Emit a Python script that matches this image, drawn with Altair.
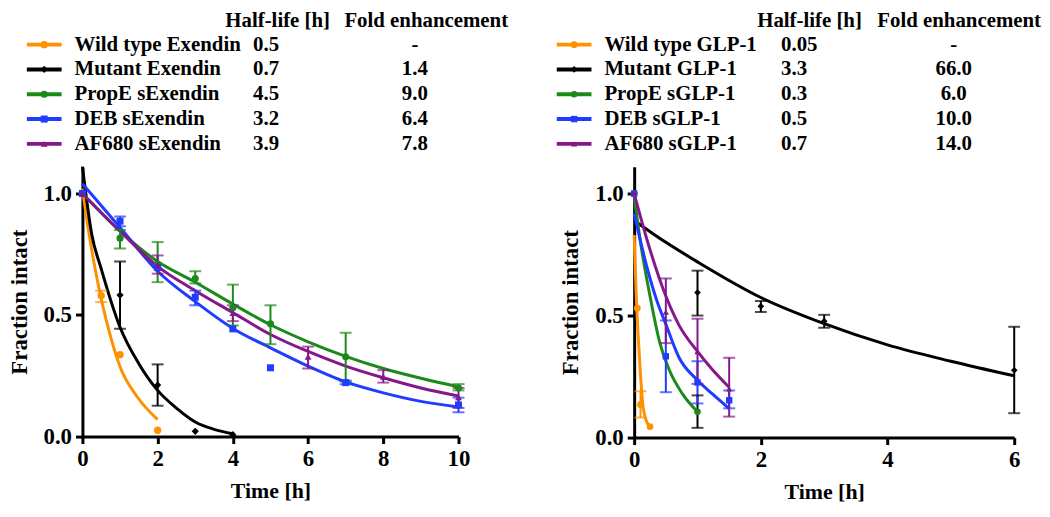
import altair as alt
import pandas as pd

# ---------------- legend tables ----------------
L_SERIES = ["Wild type Exendin", "Mutant Exendin", "PropE sExendin", "DEB sExendin", "AF680 sExendin"]
L_HALF = ["0.5", "0.7", "4.5", "3.2", "3.9"]
L_FOLD = ["-", "1.4", "9.0", "6.4", "7.8"]

R_SERIES = ["Wild type GLP-1", "Mutant GLP-1", "PropE sGLP-1", "DEB sGLP-1", "AF680 sGLP-1"]
R_HALF = ["0.05", "3.3", "0.3", "0.5", "0.7"]
R_FOLD = ["-", "66.0", "6.0", "10.0", "14.0"]

# ---------------- left panel (Exendin) ----------------
L_WT_T = [0, 0.5, 1, 2]
L_WT_V = [1.0, 0.58, 0.337, 0.026]
L_MU_T = [0, 1, 2, 3, 4]
L_MU_V = [1.0, 0.582, 0.212, 0.022, 0.008]
L_PR_T = [0, 1, 2, 3, 4, 5, 7, 10]
L_PR_V = [1.0, 0.816, 0.71, 0.65, 0.53, 0.464, 0.328, 0.20]
L_DE_T = [0, 1, 2, 3, 4, 5, 7, 10]
L_DE_V = [1.0, 0.886, 0.695, 0.573, 0.443, 0.283, 0.222, 0.13]
L_AF_T = [0, 2, 4, 6, 8, 10]
L_AF_V = [1.0, 0.706, 0.508, 0.328, 0.246, 0.162]
# error bars (time, low, high)
L_WT_ERR = [(0.5, 0.553, 0.60)]
L_MU_ERR = [(1, 0.444, 0.72), (2, 0.127, 0.297)]
L_PR_ERR = [(1, 0.774, 0.85), (2, 0.635, 0.80), (3, 0.63, 0.68), (4, 0.457, 0.625),
            (5, 0.38, 0.54), (7, 0.226, 0.427), (10, 0.19, 0.216)]
L_DE_ERR = [(1, 0.865, 0.905), (3, 0.54, 0.60), (7, 0.215, 0.23), (10, 0.10, 0.16)]
L_AF_ERR = [(2, 0.67, 0.745), (4, 0.475, 0.54), (6, 0.28, 0.37), (8, 0.222, 0.273), (10, 0.118, 0.20)]
# fitted curves
L_WT_CT = [0, 0.15, 0.35, 0.53, 0.75, 1.0, 1.45, 2.0]
L_WT_CV = [1.02, 0.86, 0.68, 0.546, 0.41, 0.287, 0.165, 0.07]
L_MU_CT = [0, 0.25, 0.5, 1.0, 1.5, 2.0, 2.5, 3.0, 3.5, 4.0]
L_MU_CV = [1.11, 0.83, 0.69, 0.45, 0.30, 0.19, 0.117, 0.06, 0.03, 0.012]
L_PR_CT = [0, 1, 2, 3, 4, 5, 6, 7, 8, 9, 10]
L_PR_CV = [1.0, 0.845, 0.72, 0.635, 0.545, 0.46, 0.39, 0.33, 0.28, 0.24, 0.205]
L_DE_CT = [0, 1, 2, 3, 4, 5, 6, 7, 8, 9, 10]
L_DE_CV = [1.04, 0.86, 0.68, 0.555, 0.445, 0.365, 0.29, 0.225, 0.18, 0.145, 0.122]
L_AF_CT = [0, 1, 2, 3, 4, 5, 6, 7, 8, 9, 10]
L_AF_CV = [1.0, 0.845, 0.70, 0.60, 0.51, 0.42, 0.35, 0.29, 0.242, 0.20, 0.167]

# ---------------- right panel (GLP-1) ----------------
R_WT_T = [0, 0.05, 0.1, 0.25]
R_WT_V = [1.0, 0.53, 0.135, 0.045]
R_MU_T = [0, 1, 2, 3, 6]
R_MU_V = [1.0, 0.594, 0.538, 0.477, 0.276]
R_PR_T = [0, 1]
R_PR_V = [1.0, 0.106]
R_DE_T = [0, 0.5, 1, 1.5]
R_DE_V = [1.0, 0.333, 0.226, 0.153]
R_AF_T = [0, 0.5, 1, 1.5]
R_AF_V = [1.0, 0.514, 0.353, 0.20]
R_WT_ERR = [(0.1, 0.082, 0.19)]
R_MU_ERR = [(1, 0.50, 0.684), (1, 0.04, 0.173), (2, 0.515, 0.56), (3, 0.45, 0.503), (6, 0.10, 0.454)]
R_PR_ERR = []
R_DE_ERR = [(0.5, 0.186, 0.48), (1, 0.14, 0.313), (1.5, 0.12, 0.193)]
R_AF_ERR = [(0.5, 0.387, 0.652), (1, 0.22, 0.487), (1.5, 0.086, 0.327)]
R_WT_CT = [0, 0.03, 0.083, 0.135, 0.19, 0.25]
R_WT_CV = [0.83, 0.60, 0.33, 0.14, 0.07, 0.045]
R_MU_CT = [0, 0.5, 1, 2, 3, 4, 5, 6]
R_MU_CV = [0.89, 0.80, 0.72, 0.574, 0.467, 0.38, 0.313, 0.253]
R_PR_CT = [0, 0.1, 0.24, 0.4, 0.55, 0.76, 1.0]
R_PR_CV = [0.99, 0.80, 0.594, 0.394, 0.28, 0.18, 0.106]
R_DE_CT = [0, 0.2, 0.36, 0.5, 0.71, 1.0, 1.23, 1.5]
R_DE_CV = [0.918, 0.70, 0.56, 0.465, 0.327, 0.235, 0.18, 0.119]
R_AF_CT = [0, 0.25, 0.5, 0.71, 1.0, 1.23, 1.5]
R_AF_CV = [1.0, 0.77, 0.58, 0.46, 0.353, 0.28, 0.206]

COLORS = ["#FF9000", "#000000", "#1B8A1B", "#1F3CFF", "#85168B"]
SHAPES = ["circle", "diamond", "circle", "square", "triangle-up"]
SIZES = [55, 40, 75, 75, 75]

FONT = "Liberation Serif"
ALL_SERIES = L_SERIES + R_SERIES
COLOR_SCALE = alt.Scale(domain=ALL_SERIES, range=COLORS + COLORS)
SHAPE_SCALE = alt.Scale(domain=ALL_SERIES, range=SHAPES + SHAPES)
SIZE_SCALE = alt.Scale(domain=ALL_SERIES, range=SIZES + SIZES)


def build_frames(series, pts, errs, curves):
    p, e, c = [], [], []
    for name, (ts, vs) in zip(series, pts):
        for t, v in zip(ts, vs):
            p.append({"series": name, "t": t, "v": v})
    for name, rows in zip(series, errs):
        for t, lo, hi in rows:
            e.append({"series": name, "t": t, "lo": lo, "hi": hi})
    for name, (ts, vs) in zip(series, curves):
        for t, v in zip(ts, vs):
            c.append({"series": name, "t": t, "v": v})
    return pd.DataFrame(p), pd.DataFrame(e), pd.DataFrame(c)


def plot_layers(series, pts, errs, curves, xmax, xvals):
    dp, de, dc = build_frames(series, pts, errs, curves)
    xs = alt.Scale(domain=[0, xmax], nice=False)
    ys = alt.Scale(domain=[0, 1.11], nice=False)
    xa = alt.Axis(values=xvals, format="d", title="Time [h]")
    ya = alt.Axis(values=[0, 0.5, 1.0], format=".1f", title="Fraction intact",
                  titlePadding=12, titleFontSize=23)
    color = alt.Color("series:N", scale=COLOR_SCALE, legend=None)

    def X():
        return alt.X("t:Q", scale=xs, axis=xa)

    def Y(f):
        return alt.Y(f, scale=ys, axis=ya)

    lines = alt.Chart(dc).mark_line(strokeWidth=3, interpolate="monotone").encode(
        x=X(), y=Y("v:Q"), color=color)
    bars = alt.Chart(de).mark_rule(strokeWidth=2).encode(
        x=X(), y=Y("lo:Q"), y2="hi:Q", color=color)
    cap_lo = alt.Chart(de).mark_tick(thickness=2, size=12, orient="horizontal").encode(
        x=X(), y=Y("lo:Q"), color=color)
    cap_hi = alt.Chart(de).mark_tick(thickness=2, size=12, orient="horizontal").encode(
        x=X(), y=Y("hi:Q"), color=color)
    points = alt.Chart(dp).mark_point(filled=True, opacity=1).encode(
        x=X(), y=Y("v:Q"), color=color,
        shape=alt.Shape("series:N", scale=SHAPE_SCALE, legend=None),
        size=alt.Size("series:N", scale=SIZE_SCALE, legend=None))
    return alt.layer(lines, bars, cap_lo, cap_hi, points)


def legend_layers(series, half, fold, pos):
    df = pd.DataFrame({"series": series, "half": half, "fold": fold})
    y = alt.Y("series:N", sort=series, axis=None,
              scale=alt.Scale(domain=series, range=[-135.5, -10.5]))
    color = alt.Color("series:N", scale=COLOR_SCALE, legend=None)
    txt = dict(font=FONT, fontSize=21, fontWeight="bold", baseline="middle", color="black")
    base = alt.Chart(df)
    sym_line = base.mark_rule(strokeWidth=4).encode(
        x=alt.value(pos["sym0"]), x2=alt.value(pos["sym1"]), y=y, color=color)
    sym_pt = base.mark_point(filled=True, opacity=1).encode(
        x=alt.value((pos["sym0"] + pos["sym1"]) / 2), y=y, color=color,
        shape=alt.Shape("series:N", scale=SHAPE_SCALE, legend=None),
        size=alt.Size("series:N", scale=SIZE_SCALE, legend=None))
    lab = base.mark_text(align="left", **txt).encode(
        x=alt.value(pos["label"]), y=y, text="series:N")
    hl = base.mark_text(align="left", **txt).encode(
        x=alt.value(pos["half"]), y=y, text="half:N")
    fd = base.mark_text(align="center", **txt).encode(
        x=alt.value(pos["fold"]), y=y, text="fold:N")
    return alt.layer(sym_line, sym_pt, lab, hl, fd)


def headers(pos):
    htxt = dict(font=FONT, fontSize=21, fontWeight="bold", baseline="middle", color="black", align="left")
    h1 = alt.Chart(pd.DataFrame({"h": ["Half-life [h]"]})).mark_text(**htxt).encode(
        x=alt.value(pos["h1"]), y=alt.value(-147), text="h:N")
    h2 = alt.Chart(pd.DataFrame({"h": ["Fold enhancement"]})).mark_text(**htxt).encode(
        x=alt.value(pos["h2"]), y=alt.value(-147), text="h:N")
    return h1, h2


def panel(series, half, fold, pts, errs, curves, xmax, xvals, width, height, pos):
    h1, h2 = headers(pos)
    return alt.layer(
        plot_layers(series, pts, errs, curves, xmax, xvals),
        legend_layers(series, half, fold, pos),
        h1, h2,
    ).resolve_scale(y="independent").properties(width=width, height=height)


left = panel(
    L_SERIES, L_HALF, L_FOLD,
    [(L_WT_T, L_WT_V), (L_MU_T, L_MU_V), (L_PR_T, L_PR_V), (L_DE_T, L_DE_V), (L_AF_T, L_AF_V)],
    [L_WT_ERR, L_MU_ERR, L_PR_ERR, L_DE_ERR, L_AF_ERR],
    [(L_WT_CT, L_WT_CV), (L_MU_CT, L_MU_CV), (L_PR_CT, L_PR_CV), (L_DE_CT, L_DE_CV), (L_AF_CT, L_AF_CV)],
    10, [0, 2, 4, 6, 8, 10], 379, 272,
    {"sym0": -56, "sym1": -21, "label": -8, "half": 172, "fold": 335, "h1": 144, "h2": 264})

right = panel(
    R_SERIES, R_HALF, R_FOLD,
    [(R_WT_T, R_WT_V), (R_MU_T, R_MU_V), (R_PR_T, R_PR_V), (R_DE_T, R_DE_V), (R_AF_T, R_AF_V)],
    [R_WT_ERR, R_MU_ERR, R_PR_ERR, R_DE_ERR, R_AF_ERR],
    [(R_WT_CT, R_WT_CV), (R_MU_CT, R_MU_CV), (R_PR_CT, R_PR_CV), (R_DE_CT, R_DE_CV), (R_AF_CT, R_AF_CV)],
    6, [0, 2, 4, 6], 383, 273,
    {"sym0": -78, "sym1": -43, "label": -30, "half": 148, "fold": 322, "h1": 124, "h2": 245})

chart = alt.hconcat(left, right, spacing=46).properties(
    padding=0
).configure_view(
    stroke=None
).configure_axis(
    grid=False,
    domainColor="black", domainWidth=3,
    tickColor="black", tickWidth=3, tickSize=7,
    labelFont=FONT, labelFontSize=23, labelFontWeight="bold", labelColor="black",
    labelFlush=False, labelPadding=4,
    titleFont=FONT, titleFontSize=22, titleFontWeight="bold", titleColor="black",
    titlePadding=10,
)

chart.save("out.html", embed_options={"renderer": "svg", "actions": False})
